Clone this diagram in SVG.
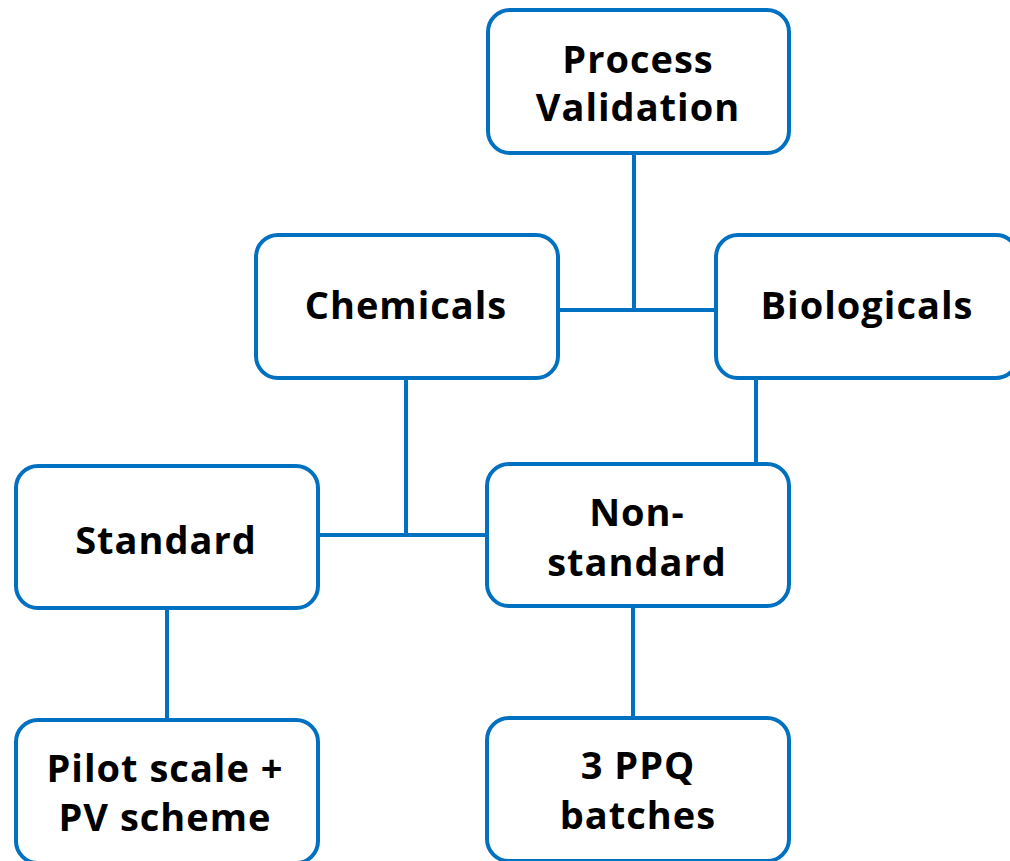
<svg xmlns="http://www.w3.org/2000/svg" width="1010" height="861" viewBox="0 0 1010 861">
<style>
.box{fill:#fff;stroke:#0070C0;stroke-width:4}
.lbl{font-family:"Open Sans","Noto Sans",sans-serif;font-weight:bold;font-size:38px;letter-spacing:1px;fill:#000;text-anchor:middle}
.con{stroke:#0070C0;stroke-width:4;fill:none}
</style>
<rect width="1010" height="861" fill="#fff"/>
<g id="connectors">
<line class="con" x1="634" y1="153" x2="634" y2="310"/>
<line class="con" x1="558" y1="310" x2="716" y2="310"/>
<line class="con" x1="406" y1="378" x2="406" y2="535"/>
<line class="con" x1="318" y1="535" x2="487" y2="535"/>
<line class="con" x1="756" y1="378" x2="756" y2="464"/>
<line class="con" x1="167" y1="608" x2="167" y2="720"/>
<line class="con" x1="633" y1="606" x2="633" y2="718"/>
</g>
<g id="process-validation">
<rect class="box" x="488" y="10" width="301" height="143" rx="22"/>
<text class="lbl" x="638" y="73">Process</text>
<text class="lbl" x="638" y="121">Validation</text>
</g>
<g id="chemicals">
<rect class="box" x="256" y="235" width="302" height="143" rx="22"/>
<text class="lbl" x="406" y="319">Chemicals</text>
</g>
<g id="biologicals">
<rect class="box" x="716" y="235" width="302" height="143" rx="22"/>
<text class="lbl" x="867" y="319">Biologicals</text>
</g>
<g id="standard">
<rect class="box" x="16" y="466" width="302" height="142" rx="22"/>
<text class="lbl" x="166" y="554">Standard</text>
</g>
<g id="non-standard">
<rect class="box" x="487" y="464" width="302" height="142" rx="22"/>
<text class="lbl" x="637" y="526">Non-</text>
<text class="lbl" x="637" y="576">standard</text>
</g>
<g id="pilot-scale">
<rect class="box" x="16" y="720" width="302" height="143" rx="22"/>
<text class="lbl" x="165" y="782">Pilot scale +</text>
<text class="lbl" x="165" y="831">PV scheme</text>
</g>
<g id="ppq-batches">
<rect class="box" x="487" y="718" width="302" height="143" rx="22"/>
<text class="lbl" x="638" y="779">3 PPQ</text>
<text class="lbl" x="638" y="829">batches</text>
</g>
</svg>
